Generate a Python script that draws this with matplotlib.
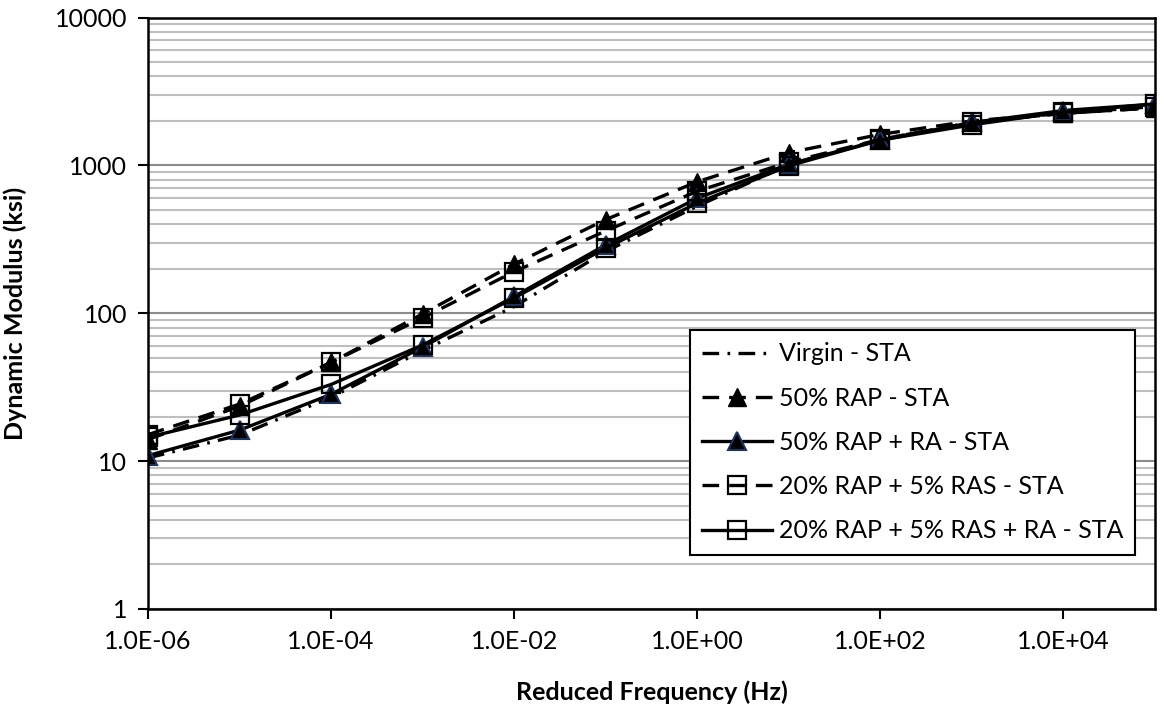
import matplotlib
matplotlib.use('Agg')
import matplotlib.pyplot as plt
from matplotlib.ticker import LogLocator, FixedLocator, NullFormatter

plt.rcParams['font.family'] = ['Lato', 'DejaVu Sans']

# reduced frequency (Hz), one point per decade
freq = [1e-6, 1e-5, 1e-4, 1e-3, 1e-2, 1e-1, 1e0, 1e1, 1e2, 1e3, 1e4, 1e5]

# dynamic modulus master curves (ksi)
virgin = [10.5, 15.0, 27.0, 56.0, 111, 262, 530, 1010, 1500, 1950, 2250, 2450]
rap50 = [14.0, 23.5, 46.5, 99.0, 215, 430, 775, 1220, 1620, 2000, 2250, 2450]
rap50_ra = [10.9, 16.2, 28.3, 59.0, 130, 290, 600, 1020, 1480, 1950, 2350, 2600]
rap20_ras5 = [15.1, 24.3, 46.5, 93.0, 191, 360, 670, 1050, 1500, 1950, 2250, 2500]
rap20_ras5_ra = [14.5, 20.5, 33.0, 61.0, 127, 276, 556, 993, 1480, 1880, 2300, 2600]

labels = ['Virgin - STA', '50% RAP - STA', '50% RAP + RA - STA',
          '20% RAP + 5% RAS - STA', '20% RAP + 5% RAS + RA - STA']
xtick_vals = [1e-6, 1e-4, 1e-2, 1e0, 1e2, 1e4]
xtick_labels = ['1.0E-06', '1.0E-04', '1.0E-02', '1.0E+00', '1.0E+02', '1.0E+04']
ytick_vals = [1, 10, 100, 1000, 10000]

fig = plt.figure(figsize=(11.66, 7.10), dpi=100)
ax = fig.add_axes([148 / 1166, 1 - 609 / 710, (1155 - 148) / 1166, (609 - 17.5) / 710])

lw = 2.4
navy = '#1b3360'
ax.plot(freq, virgin, color='black', lw=lw, dashes=(5, 2.5, 0.8, 2.5), label=labels[0])
ax.plot(freq, rap50, color='black', lw=lw, dashes=(5, 3), marker='^', ms=13,
        mfc='black', mec='black', label=labels[1])
ax.plot(freq, rap50_ra, color='black', lw=lw, marker='^', ms=13,
        mfc='black', mec=navy, mew=1.5, label=labels[2])
ax.plot(freq, rap20_ras5, color='black', lw=lw, dashes=(5, 3), marker='s', ms=13,
        mfc='none', mec='black', mew=1.6, label=labels[3])
ax.plot(freq, rap20_ras5_ra, color='black', lw=lw, marker='s', ms=13,
        mfc='none', mec='black', mew=1.6, label=labels[4])

ax.set_xscale('log')
ax.set_yscale('log')
ax.set_xlim(1e-6, 1e5)
ax.set_ylim(1, 10000)

ax.set_xticks(xtick_vals)
ax.set_xticklabels(xtick_labels)
ax.xaxis.set_minor_locator(FixedLocator([]))
ax.set_yticks(ytick_vals)
ax.set_yticklabels([str(v) for v in ytick_vals])
ax.yaxis.set_minor_locator(LogLocator(base=10, subs=range(2, 10)))
ax.yaxis.set_minor_formatter(NullFormatter())

ax.grid(axis='y', which='major', color='#8c8c8c', lw=1.5)
ax.grid(axis='y', which='minor', color='#bfbfbf', lw=1.5)
ax.set_axisbelow(True)

for s in ax.spines.values():
    s.set_linewidth(1.8)
    s.set_color('black')
ax.tick_params(axis='both', which='major', direction='out', length=7, width=1.5,
               labelsize=18, pad=8)
ax.tick_params(axis='y', which='minor', length=0)

ax.set_xlabel('Reduced Frequency (Hz)', fontsize=18, fontweight='bold', labelpad=20)
ax.set_ylabel('Dynamic Modulus (ksi)', fontsize=18, fontweight='bold', labelpad=20)

leg = ax.legend(loc='upper left', bbox_to_anchor=(0.538, 0.472), borderaxespad=0,
                fontsize=18, frameon=True, fancybox=False, edgecolor='black',
                framealpha=1, handlelength=2.8, handletextpad=0.25,
                labelspacing=0.85, borderpad=0.5)
leg.get_frame().set_linewidth(1.5)

fig.savefig('out.png', dpi=100)
